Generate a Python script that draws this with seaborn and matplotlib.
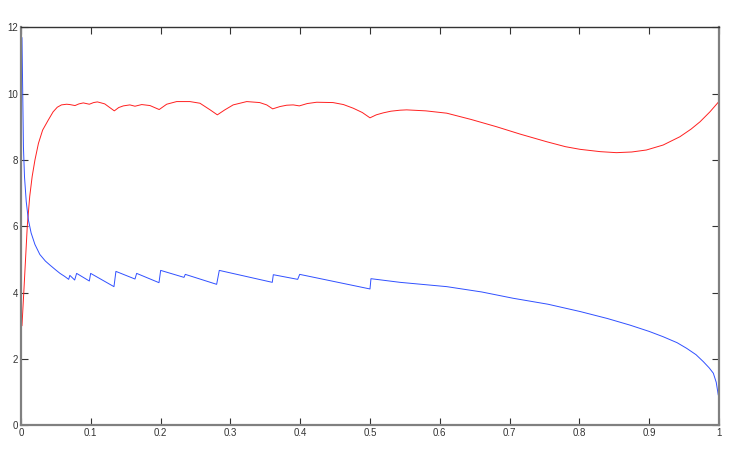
import numpy as np
import pandas as pd
import seaborn as sns
import matplotlib.pyplot as plt

# red curve
red_x = [0.0014, 0.004, 0.0065, 0.009, 0.0125, 0.016, 0.020, 0.025, 0.031, 0.039, 0.046,
         0.052, 0.058, 0.0654, 0.070, 0.0774, 0.083, 0.0893, 0.0979, 0.104, 0.1094,
         0.1132, 0.120, 0.1337, 0.1400, 0.1466, 0.156, 0.1633, 0.173, 0.1848, 0.198,
         0.2087, 0.223, 0.242, 0.2564, 0.271, 0.2813, 0.292, 0.304, 0.3234, 0.342,
         0.352, 0.3606, 0.371, 0.3806, 0.390, 0.3988, 0.410, 0.4236, 0.447, 0.462,
         0.476, 0.489, 0.500, 0.509, 0.519, 0.530, 0.543, 0.5525, 0.580, 0.610, 0.645,
         0.6815, 0.715, 0.753, 0.780, 0.801, 0.830, 0.853, 0.875, 0.896, 0.920, 0.944,
         0.960, 0.9728, 0.987, 0.999]
red_y = [3.0, 4.0, 5.0, 6.0, 6.9, 7.5, 8.0, 8.5, 8.9, 9.2, 9.45,
         9.59, 9.66, 9.68, 9.67, 9.64, 9.69, 9.72, 9.68, 9.73, 9.75,
         9.73, 9.69, 9.48, 9.58, 9.63, 9.66, 9.62, 9.67, 9.64, 9.52,
         9.68, 9.76, 9.76, 9.71, 9.51, 9.36, 9.51, 9.66, 9.76, 9.73,
         9.66, 9.54, 9.61, 9.65, 9.66, 9.63, 9.70, 9.74, 9.73, 9.67,
         9.56, 9.43, 9.27, 9.36, 9.42, 9.47, 9.50, 9.51, 9.48, 9.41, 9.22,
         9.00, 8.78, 8.55, 8.40, 8.32, 8.25, 8.22, 8.24, 8.30, 8.45, 8.70,
         8.93, 9.15, 9.45, 9.74]

# blue curve (saw-tooth with jumps)
blue_x = [0.0014, 0.0025, 0.0035, 0.005, 0.0075, 0.0105, 0.0145, 0.020, 0.027, 0.035,
          0.0415, 0.050, 0.0559, 0.0625, 0.0683, 0.070, 0.0769, 0.0797, 0.0979, 0.0998,
          0.1332, 0.136, 0.1633, 0.1657, 0.1977, 0.2001, 0.2335, 0.2354, 0.2803, 0.2841,
          0.360, 0.3615, 0.3964, 0.3993, 0.500, 0.5014, 0.543, 0.610, 0.660, 0.705, 0.755,
          0.801, 0.840, 0.8725, 0.900, 0.920, 0.940, 0.9537, 0.967, 0.9775, 0.986, 0.9919,
          0.996, 0.999]
blue_y = [11.69, 10.0, 8.4, 7.5, 6.75, 6.2, 5.8, 5.45, 5.15, 4.95,
          4.83, 4.68, 4.58, 4.49, 4.40, 4.52, 4.38, 4.58, 4.35, 4.58,
          4.18, 4.64, 4.41, 4.58, 4.30, 4.67, 4.46, 4.55, 4.25, 4.67,
          4.31, 4.54, 4.40, 4.55, 4.11, 4.42, 4.31, 4.18, 4.02, 3.83, 3.65,
          3.43, 3.22, 3.02, 2.83, 2.67, 2.49, 2.32, 2.13, 1.92, 1.73, 1.57,
          1.30, 0.91]

x_ticks = [0, 0.1, 0.2, 0.3, 0.4, 0.5, 0.6, 0.7, 0.8, 0.9, 1]
x_labels = ["0", "0.1", "0.2", "0.3", "0.4", "0.5", "0.6", "0.7", "0.8", "0.9", "1"]
y_ticks = [0, 2, 4, 6, 8, 10, 12]

sns.set_style("ticks")
plt.rcParams['font.family'] = ['Liberation Sans', 'DejaVu Sans']

red = pd.DataFrame({"x": red_x, "y": red_y})
blue = pd.DataFrame({"x": blue_x, "y": blue_y})

fig = plt.figure(figsize=(7.47, 4.57), dpi=100)
ax = fig.add_axes([0.0281, 0.0694, 0.9344, 0.8709])

sns.lineplot(data=red, x="x", y="y", color="#ff2020", lw=0.7, sort=False, estimator=None, ax=ax)
sns.lineplot(data=blue, x="x", y="y", color="#3050ff", lw=0.7, sort=False, estimator=None, ax=ax)

ax.set_xlim(0, 1)
ax.set_ylim(0, 12)
ax.set_xticks(x_ticks)
ax.set_xticklabels(x_labels)
ax.set_yticks(y_ticks)
ax.set_xlabel("")
ax.set_ylabel("")
ax.tick_params(direction="in", length=5, width=0.8, labelsize=7, pad=2,
               top=True, right=True, colors="#333333")

for side in ["left", "bottom", "right"]:
    ax.spines[side].set_color("#808080")
    ax.spines[side].set_linewidth(1.6)
ax.spines["top"].set_color("#333333")
ax.spines["top"].set_linewidth(1.0)

fig.savefig("out.png", dpi=100)
